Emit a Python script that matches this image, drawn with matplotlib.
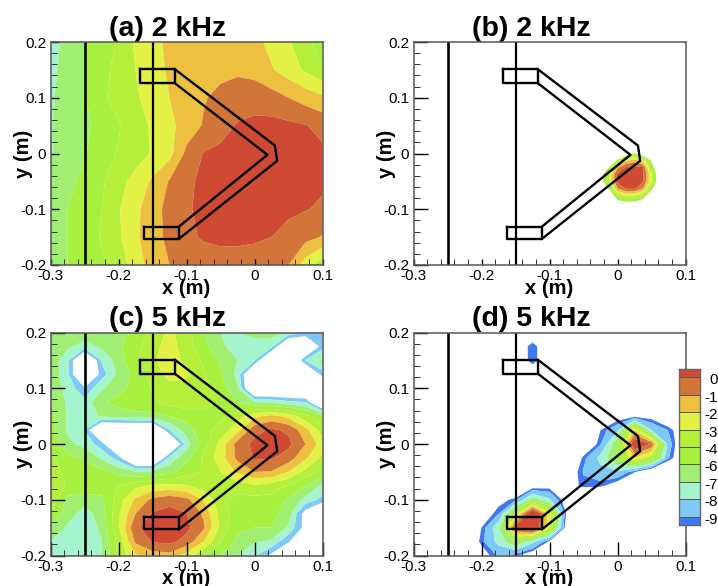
import numpy as np
import matplotlib
matplotlib.use("Agg")
import matplotlib.pyplot as plt

plt.rcParams['font.family'] = ['Liberation Sans', 'DejaVu Sans']

band_levels = [-10.2, -9.6, -8.4, -7.2, -6.0, -4.8, -3.6, -2.4, -1.2, 0.0, 3.0]
band_colors = ['#3F79F0', '#7FC9F8', '#A4F4CE', '#A0EE72', '#A8F040', '#B6EE3C',
               '#E3F145', '#EDC13F', '#D27538', '#CE4A33']
colorbar_labels = ['0', '-1', '-2', '-3', '-4', '-6', '-7', '-8', '-9']
colorbar_values = [0.0, -1.2, -2.4, -3.6, -4.8, -6.0, -7.2, -8.4, -9.6]
xticks = [-0.3, -0.2, -0.1, 0.0, 0.1]
xticklabels = ['-0.3', '-0.2', '-0.1', '0', '0.1']
yticks = [-0.2, -0.1, 0.0, 0.1, 0.2]
yticklabels = ['-0.2', '-0.1', '0', '0.1', '0.2']

x_full = [-0.3, -0.275, -0.25, -0.225, -0.2, -0.175, -0.15, -0.125, -0.1, -0.075, -0.05, -0.025, 0.0, 0.025, 0.05, 0.075, 0.1]
y_coarse = [0.2, 0.15, 0.1, 0.05, 0.0, -0.05, -0.1, -0.15, -0.2]
y_full = [0.2, 0.175, 0.15, 0.125, 0.1, 0.075, 0.05, 0.025, 0.0, -0.025, -0.05, -0.075, -0.1, -0.125, -0.15, -0.175, -0.2]

field_a = [
 [-7.9,-6.7,-6.0,-5.4,-4.7,-3.4,-2.8,-2.1,-1.9,-1.8,-1.7,-1.8,-2.1,-2.7,-3.5,-4.3,-5.9],
 [-7.6,-6.6,-6.0,-5.2,-4.4,-3.6,-3.0,-2.2,-1.9,-1.7,-1.5,-1.4,-1.6,-2.3,-3.0,-3.8,-4.6],
 [-7.4,-6.6,-6.1,-5.0,-4.4,-3.8,-3.0,-2.4,-1.9,-1.3,-0.9,-0.6,-0.5,-0.7,-1.2,-1.7,-2.2],
 [-7.3,-6.6,-6.3,-5.5,-4.9,-4.2,-3.4,-2.7,-1.9,-1.1,-0.5,0.1,0.3,0.35,0.25,0.05,-0.3],
 [-7.3,-6.7,-6.1,-5.3,-4.7,-4.1,-3.5,-2.8,-0.9,0.05,0.3,0.5,0.6,0.6,0.6,0.5,0.2],
 [-6.6,-6.3,-5.7,-5.0,-4.0,-3.2,-2.2,-1.1,-0.2,0.2,0.4,0.5,0.6,0.6,0.6,0.5,0.15],
 [-6.4,-6.0,-5.5,-4.8,-3.7,-2.7,-1.7,-0.8,-0.1,0.2,0.4,0.45,0.4,0.3,0.2,0.05,-0.15],
 [-6.6,-6.0,-5.5,-4.7,-3.8,-2.6,-1.7,-0.9,-0.2,0.1,0.2,0.2,0.15,0.0,-0.35,-0.8,-1.3],
 [-6.7,-6.0,-5.5,-5.0,-4.3,-3.0,-1.9,-1.2,-0.7,-0.5,-0.4,-0.4,-0.5,-0.8,-1.2,-3.0,-4.4],
]

x_b = [-0.025, -0.0125, 0.0, 0.0125, 0.025, 0.0375, 0.05, 0.0625]
y_b = [0.0, -0.0125, -0.025, -0.0375, -0.05, -0.0625, -0.075, -0.0875]
field_b = [
 [-8,-8,-8,-7.5,-5.6,-7.5,-8,-8],
 [-8,-7.8,-5.8,-2.6,-1.8,-3,-6.2,-8],
 [-8,-6,-1.5,0.2,0.4,0.1,-5.2,-8],
 [-7,-3.5,0.2,0.5,0.5,0.2,-3.5,-8],
 [-6.8,-4,0.3,0.5,0.5,0.1,-3.6,-8],
 [-8,-5.8,-1.2,0.2,0.3,-1.2,-5.5,-8],
 [-8,-8,-4.6,-3.2,-3.3,-4.8,-7.5,-8],
 [-8,-8,-6.6,-6.3,-6.3,-7,-8,-8],
]

field_c = [
 [-6.5,-6.5,-6.6,-6.4,-6.3,-5.7,-4.5,-3.3,-4.3,-6,-7.2,-7.2,-6.9,-6.7,-7.3,-8.4,-9.0],
 [-6.4,-7.0,-7.6,-7.0,-6.2,-5.2,-4.0,-3.1,-4.2,-5.6,-7.0,-7.6,-7.6,-8.0,-13,-13,-8.8],
 [-6.4,-8.0,-13,-8.3,-6.6,-5.0,-3.8,-3.0,-3.9,-5.0,-6.2,-7.2,-8.4,-13,-13,-8.3,-6.9],
 [-6.4,-8,-13,-9.0,-6.9,-5.6,-4.2,-3.2,-3.5,-4.6,-5.8,-7.6,-13,-13,-13,-13,-9.0],
 [-6.4,-7.6,-9.4,-7.4,-6.4,-5.6,-4.7,-4,-3.8,-4.4,-5.4,-7.0,-13,-13,-13,-13,-13],
 [-5.9,-7.4,-8.0,-6.2,-5.6,-5.3,-5.0,-4.4,-4.2,-4.4,-4.9,-6.0,-7.1,-7.4,-8.0,-8.4,-13],
 [-5.6,-7.3,-8.0,-7.0,-6.6,-6.4,-6.4,-6,-5.4,-5.2,-5.0,-4.2,-2.7,-2.0,-2.8,-4.4,-5.8],
 [-5.4,-7.4,-8.4,-13,-13,-13,-13,-8.4,-6.7,-5.2,-4.4,-2.8,-0.4,0.2,-0.2,-2.0,-4.2],
 [-5.2,-6.9,-7.6,-9.0,-13,-13,-13,-13,-7.8,-5.4,-3.2,-0.7,0.3,0.6,0.3,-1.2,-3.0],
 [-4.5,-5.6,-6.2,-7.4,-9.0,-13,-13,-8.0,-6.4,-4.6,-3.0,-0.9,0.1,0.15,-0.6,-2.2,-3.9],
 [-4.2,-5.2,-5.3,-5.6,-6.4,-7.1,-7.0,-6.4,-5.3,-4.7,-3.6,-2.2,-1.2,-1.3,-2.4,-4,-5.3],
 [-3.5,-5.0,-5.2,-5.3,-4.8,-3.9,-3.4,-3.2,-3.5,-4.2,-4.4,-4.2,-3.8,-4.2,-4.9,-6,-7.4],
 [-3.8,-6.4,-6.6,-6.3,-4.2,-2.2,-0.9,-0.4,-0.9,-2.5,-4.5,-5.2,-5.2,-5.2,-6.2,-7.6,-8.8],
 [-4.9,-6.6,-7.8,-6.6,-3.8,-1.2,0.1,0.4,0.05,-1.4,-4.0,-5.5,-5.7,-5.6,-6.6,-10.4,-13],
 [-6.2,-7.4,-8.1,-6.9,-3.8,-0.2,0.5,0.7,0.3,-1,-3.9,-5.8,-6,-6,-7.4,-10.2,-13],
 [-7.2,-7.8,-8,-7.3,-4.4,-1.0,0.1,0.3,-0.4,-2.4,-4.8,-6.3,-7.1,-7.4,-9.4,-13,-13],
 [-7.8,-8,-8,-7.2,-4.6,-2.6,-1.8,-1.6,-3,-4.6,-6,-7.2,-8.2,-10.0,-13,-13,-13],
]

field_d = [
 [-13,-13,-13,-13,-13,-13,-13,-11.5,-13,-13,-13,-13,-13,-13,-13,-13,-13],
 [-13,-13,-13,-13,-13,-13,-11.5,-9.7,-11.5,-13,-13,-13,-13,-13,-13,-13,-13],
 [-13,-13,-13,-13,-13,-13,-11.5,-9.7,-11.5,-13,-13,-13,-13,-13,-13,-13,-13],
 [-13,-13,-13,-13,-13,-13,-13,-11.5,-13,-13,-13,-13,-13,-13,-13,-13,-13],
 [-13,-13,-13,-13,-13,-13,-13,-13,-13,-13,-13,-13,-13,-13,-13,-13,-13],
 [-13,-13,-13,-13,-13,-13,-13,-13,-13,-13,-13,-13,-13,-13,-13,-13,-13],
 [-13,-13,-13,-13,-13,-13,-13,-13,-13,-13,-13,-13,-11,-10.6,-10.7,-12,-13],
 [-13,-13,-13,-13,-13,-13,-13,-13,-13,-13,-12,-10.2,-8.6,-2.5,-8.4,-9.7,-11.5],
 [-13,-13,-13,-13,-13,-13,-13,-13,-13,-13,-12,-9.7,-6.2,1.5,-0.1,-9.0,-12],
 [-13,-13,-13,-13,-13,-13,-13,-13,-13,-13,-9.9,-8.0,-5.8,-2.4,-4.4,-9.5,-12],
 [-13,-13,-13,-13,-13,-13,-13,-13,-13,-11.5,-9.5,-8.8,-8.6,-10.1,-12,-13,-13],
 [-13,-13,-13,-13,-13,-13,-13,-11,-10.7,-11,-9.9,-10.0,-11,-13,-13,-13,-13],
 [-13,-13,-13,-13,-13,-10.8,-9.8,-6.5,-8.2,-11,-13,-13,-13,-13,-13,-13,-13],
 [-13,-13,-13,-13,-11.5,-9.6,-4.5,2.5,-3,-10.4,-13,-13,-13,-13,-13,-13,-13],
 [-13,-13,-13,-13,-10.2,-7.5,0.6,2.5,-3.5,-11,-13,-13,-13,-13,-13,-13,-13],
 [-13,-13,-13,-12,-9.9,-8,-6,-8,-10.4,-12,-13,-13,-13,-13,-13,-13,-13],
 [-13,-13,-13,-13,-11,-9.4,-10.0,-11.2,-13,-13,-13,-13,-13,-13,-13,-13,-13],
]

wall_x = [-0.25, -0.15]
top_box_x = [-0.168, -0.117, -0.117, -0.168, -0.168]
top_box_y = [0.151, 0.151, 0.126, 0.126, 0.151]
bot_box_x = [-0.162, -0.111, -0.111, -0.162, -0.162]
bot_box_y = [-0.131, -0.131, -0.153, -0.153, -0.131]
outer_x = [-0.117, 0.030, 0.0334, -0.111]
outer_y = [0.151, 0.0143, -0.013, -0.153]
inner_x = [-0.117, 0.019, -0.111]
inner_y = [0.126, -0.0024, -0.131]

W, H = 718, 586
fig = plt.figure(figsize=(W / 100, H / 100), dpi=100)


def px_axes(l, t, r, b):
    return fig.add_axes([l / W, 1 - b / H, (r - l) / W, (b - t) / H])


def panel(box, title, x, y, z, levels, colors, xmajor, ymajor):
    ax = px_axes(*box)
    ax.contourf(x, y, np.array(z), levels=levels, colors=colors, antialiased=True)
    for wx in wall_x:
        ax.axvline(wx, color='black', lw=1.9 if wx == wall_x[0] else 1.6, zorder=4)
    for px, py in ((top_box_x, top_box_y), (bot_box_x, bot_box_y),
                   (outer_x, outer_y), (inner_x, inner_y)):
        ax.plot(px, py, color='black', lw=1.7, zorder=4)
    ax.set_xlim(-0.3, 0.1)
    ax.set_ylim(-0.2, 0.2)
    ax.set_xticks(xticks, xticklabels)
    ax.set_yticks(yticks, yticklabels)
    ax.set_xticks(np.arange(-14, 5) * 0.02, minor=True)
    ax.set_yticks(np.arange(-9, 10) * 0.02, minor=True)
    ax.tick_params(axis='x', which='major', direction='in', length=xmajor, width=1.0,
                   labelsize=11, pad=3)
    ax.tick_params(axis='y', which='major', direction='in', length=ymajor, width=1.0,
                   labelsize=11, pad=3)
    ax.tick_params(which='minor', direction='in', length=4, width=0.7, color='#333333')
    for s in ax.spines.values():
        s.set_color('#555555')
        s.set_linewidth(1.1)
        s.set_zorder(5)
    ax.set_xlabel('x (m)', fontsize=14.5, fontweight='bold', labelpad=-3)
    ax.set_ylabel('y (m)', fontsize=14.5, fontweight='bold', labelpad=-9)
    ax.set_title(title, fontsize=20.5, fontweight='bold', x=0.432, pad=3.5)
    return ax


left = (50.5, 322.5)
right = (413.5, 685.5)
top = (42, 265)
bot = (332.5, 555.5)

panel((left[0], top[0], left[1], top[1]), '(a) 2 kHz', x_full, y_coarse, field_a,
      band_levels, band_colors, 4, 6)
panel((right[0], top[0], right[1], top[1]), '(b) 2 kHz', x_b, y_b, field_b,
      band_levels[4:], band_colors[4:], 4, 10)
panel((left[0], bot[0], left[1], bot[1]), '(c) 5 kHz', x_full, y_full, field_c,
      band_levels[1:], band_colors[1:], 10, 10)
panel((right[0], bot[0], right[1], bot[1]), '(d) 5 kHz', x_full, y_full, field_d,
      band_levels, band_colors, 10, 10)

cax = px_axes(678.5, 368.7, 700, 525.3)
edges = [-10.2] + colorbar_values[::-1] + [0.6]
cax.bar(0, np.diff(edges), bottom=edges[:-1], width=1, color=band_colors,
        edgecolor='#555555', linewidth=0.7)
cax.set_xlim(-0.5, 0.5)
cax.set_ylim(edges[0], edges[-1])
cax.set_xticks([])
cax.set_yticks([])
for s in cax.spines.values():
    s.set_color('#666666')
    s.set_linewidth(1.0)
for val, lab in zip(colorbar_values, colorbar_labels):
    cax.annotate(lab, xy=(1, val), xycoords=('axes fraction', 'data'),
                 xytext=(718, -3), textcoords=('figure pixels', 'offset pixels'),
                 ha='right', va='center', fontsize=11, annotation_clip=False)

fig.savefig('out.png', dpi=100)
